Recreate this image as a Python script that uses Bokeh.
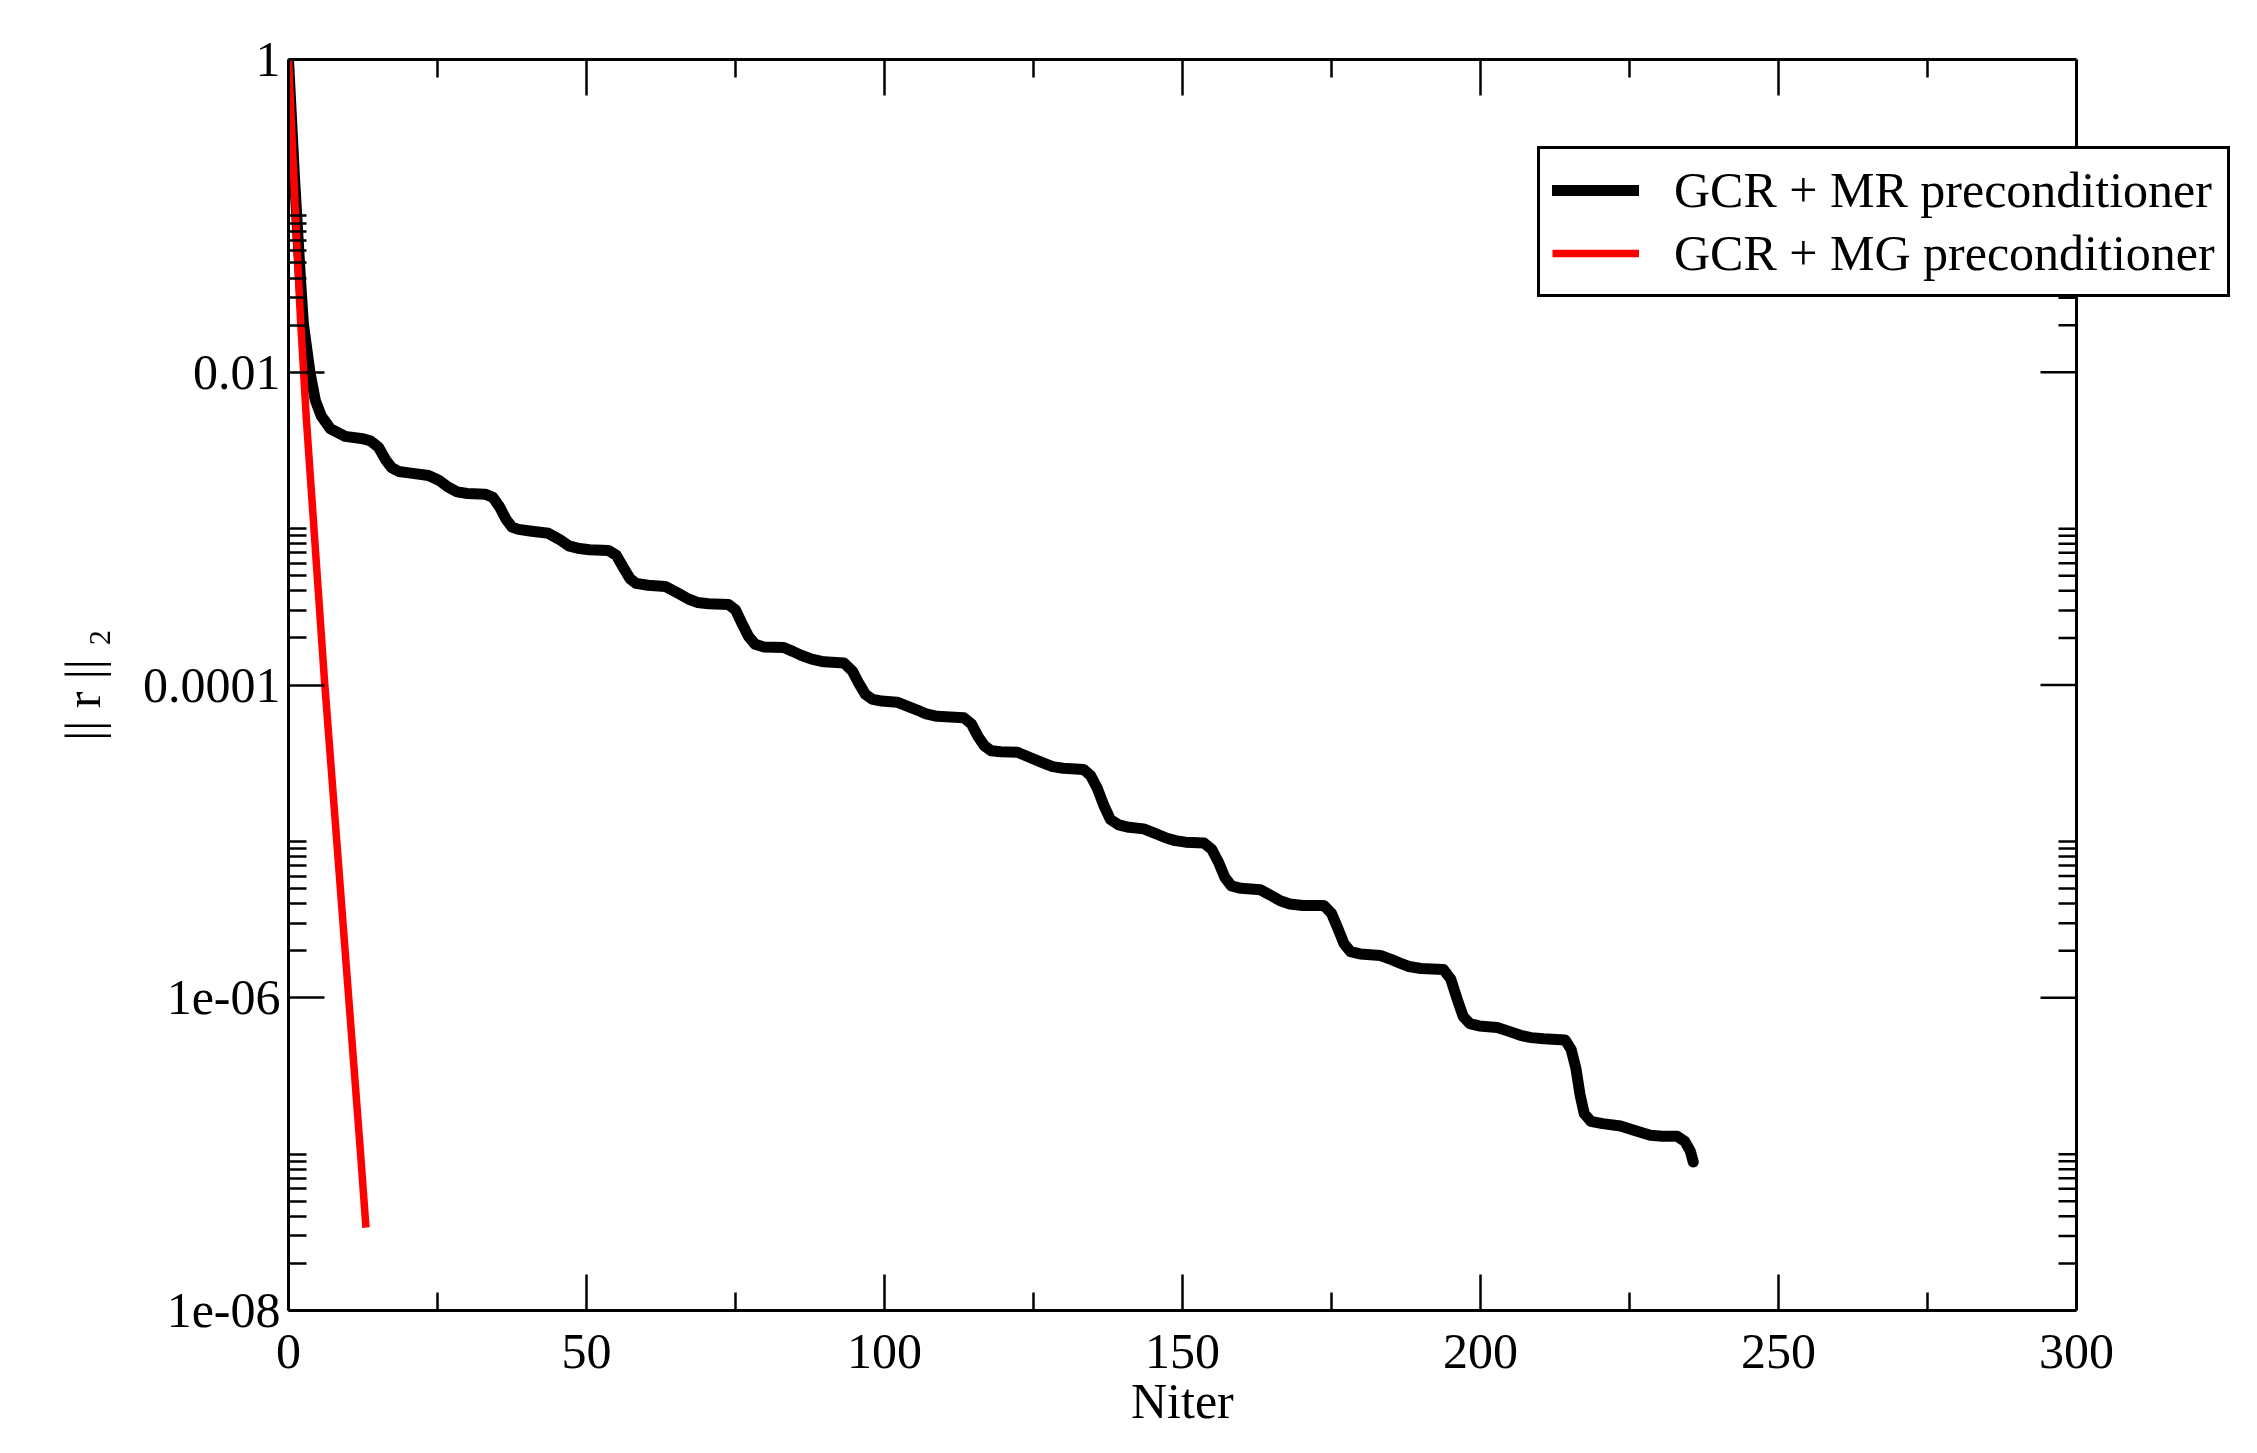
from bokeh.plotting import figure
from bokeh.models import (Range1d, FixedTicker, LinearAxis,
                          CustomJSTickFormatter, Span, Title)
from bokeh.embed import file_html
from bokeh.resources import INLINE

# ---------------- data ----------------
# GCR + MR preconditioner: iteration and log10 of the residual norm
mr_iter = [0, 1, 2, 2.5, 3.6, 4.5, 5.5, 7, 9.5, 12.5, 13.8, 15.1, 16.3, 17.3,
           18.5, 20.5, 23.5, 25.2, 26.8, 28.3, 30, 33.0, 34.3, 35.4, 36.5,
           37.5, 38.6, 40.5, 43.6, 45.5, 47, 48.5, 50.5, 53.7, 55.0, 56.2,
           57.3, 58.3, 60.3, 63.2, 65.2, 67.1, 68.6, 70.5, 73.8, 75.0, 76.0,
           77.2, 78.3, 79.8, 83.1, 84.6, 86, 87.8, 89.8, 93.2, 94.6, 95.7,
           96.8, 97.9, 99.5, 102.1, 103.8, 105.5, 107, 108.8, 113.3, 114.6,
           115.7, 116.8, 117.9, 119.5, 122.3, 124.5, 126.7, 128.2, 130, 133.4,
           134.6, 135.7, 136.8, 137.9, 139.3, 141, 143.5, 145.5, 147.4, 148.8,
           150.5, 153.6, 154.9, 156, 157.1, 158.2, 159.8, 163.1, 164.8, 166.4,
           168, 170.2, 173.7, 175.0, 176.1, 177.1, 178.2, 179.8, 183.2, 185,
           186.6, 188, 190, 193.8, 195.0, 196.1, 197.1, 198.2, 199.8, 202.8,
           204.8, 206.7, 208.5, 210.6, 214.2, 215.2, 216.0, 216.7, 217.4,
           218.5, 220.5, 223.5, 226, 228.5, 230.5, 233, 234.3, 235.2, 235.7]
mr_log10 = [0, -0.75, -1.4, -1.69, -2.0, -2.18, -2.28, -2.36, -2.41, -2.425,
            -2.44, -2.48, -2.56, -2.61, -2.635, -2.645, -2.66, -2.69, -2.735,
            -2.765, -2.775, -2.78, -2.80, -2.86, -2.94, -2.99, -3.005, -3.015,
            -3.03, -3.07, -3.11, -3.125, -3.135, -3.14, -3.17, -3.25, -3.32,
            -3.35, -3.362, -3.37, -3.41, -3.45, -3.472, -3.48, -3.485, -3.52,
            -3.60, -3.69, -3.74, -3.757, -3.76, -3.785, -3.81, -3.835, -3.852,
            -3.86, -3.91, -3.99, -4.06, -4.09, -4.103, -4.11, -4.135, -4.16,
            -4.185, -4.20, -4.21, -4.25, -4.33, -4.39, -4.42, -4.427, -4.43,
            -4.465, -4.50, -4.522, -4.532, -4.54, -4.58, -4.66, -4.77, -4.86,
            -4.895, -4.91, -4.92, -4.95, -4.98, -4.995, -5.005, -5.01, -5.05,
            -5.13, -5.23, -5.285, -5.30, -5.31, -5.345, -5.38, -5.40, -5.41,
            -5.41, -5.46, -5.56, -5.655, -5.705, -5.72, -5.73, -5.755, -5.78,
            -5.80, -5.813, -5.82, -5.88, -6.01, -6.12, -6.165, -6.18, -6.19,
            -6.215, -6.24, -6.255, -6.262, -6.27, -6.33, -6.45, -6.62, -6.74,
            -6.79, -6.805, -6.82, -6.85, -6.88, -6.885, -6.885, -6.92, -6.98,
            -7.05]

# GCR + MG preconditioner
mg_iter = [0, 1, 2, 3, 4, 5, 6, 7, 8, 9, 10, 11, 12, 13]
mg_log10 = [0, -0.85, -1.65, -2.3, -2.85, -3.4, -3.95, -4.45, -4.95, -5.45,
            -5.95, -6.45, -6.95, -7.47]

mr_res = [10 ** e for e in mr_log10]
mg_res = [10 ** e for e in mg_log10]

series_labels = ["GCR + MR preconditioner", "GCR + MG preconditioner"]
series_colors = ["#000000", "#ff0000"]

x_min, x_max = 0, 300
x_ticks = [0, 50, 100, 150, 200, 250, 300]
x_minor_ticks = [25, 75, 125, 175, 225, 275]
y_min, y_max = 1e-8, 1
y_ticks = [1e-8, 1e-6, 1e-4, 1e-2, 1]
y_tick_labels = ["1e-08", "1e-06", "0.0001", "0.01", "1"]
y_minor_ticks = [m * k for m in y_ticks[:-1] for k in range(2, 11)]

x_label = "Niter"
y_label = "|| r || \u2082"

FONT = "Liberation Serif"

# ---------------- layout ----------------
AXES_W = 1788          # pixel width of the 0..300 axes box
EXTRA_W = 156          # extra frame room so the legend may overhang the box
FRAME_H = 1251
MAJ, MIN = 36, 18      # tick lengths (px)
ppu = AXES_W / (x_max - x_min)
x_end = x_max + EXTRA_W / ppu

p = figure(frame_width=AXES_W + EXTRA_W, frame_height=FRAME_H,
           x_range=Range1d(x_min, x_end), y_range=Range1d(y_min, y_max),
           y_axis_type="log", output_backend="svg", toolbar_location=None,
           min_border_left=288, min_border_top=59, min_border_right=12,
           min_border_bottom=135)
p.xgrid.visible = False
p.ygrid.visible = False
p.background_fill_color = "white"
p.border_fill_color = "white"
p.outline_line_color = None

xt = FixedTicker(ticks=x_ticks, minor_ticks=x_minor_ticks)
yt = FixedTicker(ticks=y_ticks, minor_ticks=y_minor_ticks)
yfmt = CustomJSTickFormatter(args=dict(tv=y_ticks, tl=y_tick_labels), code="""
let best = 0, bd = Infinity;
for (let i = 0; i < tv.length; i++) {
  const d = Math.abs(Math.log10(tick) - Math.log10(tv[i]));
  if (d < bd) { bd = d; best = i; }
}
return tl[best];
""")


def style(ax):
    ax.axis_line_width = 3
    ax.axis_line_color = "black"
    ax.major_tick_in = MAJ
    ax.major_tick_out = 0
    ax.minor_tick_in = MIN
    ax.minor_tick_out = 0
    ax.major_tick_line_width = 2.5
    ax.minor_tick_line_width = 2.5
    ax.major_tick_line_color = "black"
    ax.minor_tick_line_color = "black"
    ax.major_label_text_font = FONT
    ax.major_label_text_font_size = "50px"
    ax.major_label_text_color = "black"
    ax.axis_label_text_font = FONT
    ax.axis_label_text_font_size = "50px"
    ax.axis_label_text_font_style = "normal"
    ax.axis_label_text_color = "black"


xa = p.below[0]
xa.ticker = xt
style(xa)
xa.bounds = (x_min, x_max)
xa.major_label_standoff = 24

# x-axis title centred under the 0..300 axes box (not under the wider frame)
label_w = 103
p.add_layout(Title(text=x_label, align="left",
                   offset=AXES_W / 2 - label_w / 2,
                   text_font=FONT, text_font_size="50px",
                   text_font_style="normal", text_color="black",
                   standoff=0), "below")

ya = p.left[0]
ya.ticker = yt
ya.formatter = yfmt
style(ya)
ya.axis_label = y_label
ya.major_label_standoff = 8
ya.axis_label_standoff = 29

top = LinearAxis(ticker=xt, formatter=CustomJSTickFormatter(code="return ''"))
style(top)
top.bounds = (x_min, x_max)
top.major_label_standoff = 0
p.add_layout(top, "above")

# right spine of the axes box at x = 300, with inward ticks
p.add_layout(Span(location=x_max, dimension="height", line_color="black",
                  line_width=3))
p.segment(x0=[x_max] * len(y_ticks), y0=y_ticks,
          x1=[x_max - MAJ / ppu] * len(y_ticks), y1=y_ticks,
          line_color="black", line_width=2.5)
p.segment(x0=[x_max] * len(y_minor_ticks), y0=y_minor_ticks,
          x1=[x_max - MIN / ppu] * len(y_minor_ticks), y1=y_minor_ticks,
          line_color="black", line_width=2.5)

p.line(mr_iter, mr_res, line_color=series_colors[0], line_width=11,
       line_join="round", line_cap="round", legend_label=series_labels[0])
p.line(mg_iter, mg_res, line_color=series_colors[1], line_width=7.5,
       line_join="round", line_cap="butt", legend_label=series_labels[1])

lg = p.legend[0]
lg.location = (1249, 1013)
lg.label_text_font = FONT
lg.label_text_font_size = "50px"
lg.label_text_color = "black"
lg.border_line_color = "black"
lg.border_line_alpha = 1
lg.border_line_width = 3
lg.background_fill_color = "white"
lg.background_fill_alpha = 1
lg.padding = 12
lg.spacing = 5
lg.margin = 0
lg.glyph_width = 87
lg.glyph_height = 40
lg.label_standoff = 35

open("out.html", "w").write(file_html(p, INLINE))
